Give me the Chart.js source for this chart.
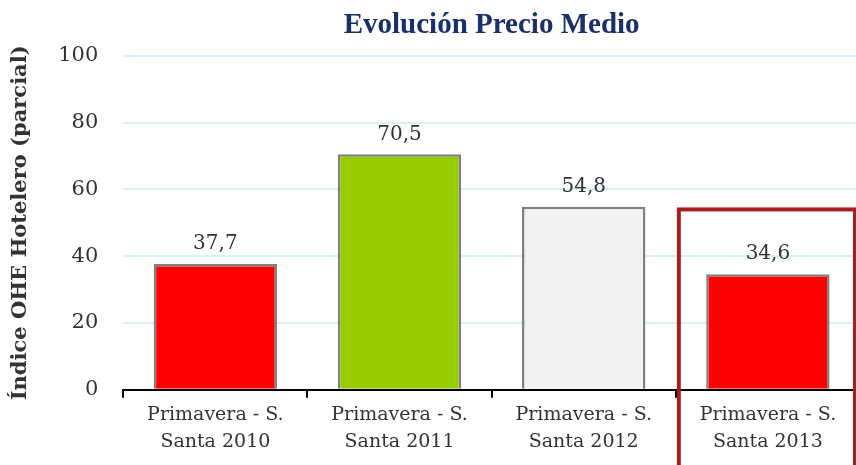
<!DOCTYPE html>
<html>
<head>
<meta charset="utf-8">
<script src="https://cdn.jsdelivr.net/npm/chart.js@4.4.0/dist/chart.umd.min.js"></script>
<style>
  html, body { margin: 0; padding: 0; background: #fff; overflow: hidden; }
  #wrap { width: 860px; height: 465px; }
</style>
</head>
<body>
<div id="wrap"><canvas id="c" width="860" height="465"></canvas></div>
<script>
const categories = [
  ['Primavera - S.', 'Santa 2010'],
  ['Primavera - S.', 'Santa 2011'],
  ['Primavera - S.', 'Santa 2012'],
  ['Primavera - S.', 'Santa 2013']
];
const values = [37.7, 70.5, 54.8, 34.6];
const yTicks = [0, 20, 40, 60, 80, 100];
const highlightIndex = 3;
const highlightTopValue = 54;

const barColors = ['#FF0000', '#99CC00', '#F2F2F2', '#FF0000'];
const serif = '"DejaVu Serif", Georgia, serif';

const dataLabels = {
  id: 'dataLabels',
  afterDatasetsDraw(chart) {
    const ctx = chart.ctx;
    const meta = chart.getDatasetMeta(0);
    ctx.save();
    ctx.font = '20px ' + serif;
    ctx.fillStyle = '#333333';
    ctx.textAlign = 'center';
    ctx.textBaseline = 'bottom';
    meta.data.forEach((bar, i) => {
      const v = chart.data.datasets[0].data[i];
      ctx.fillText(v.toFixed(1).replace('.', ','), bar.x, bar.y - 10);
    });
    ctx.restore();
  }
};

const highlightBox = {
  id: 'highlightBox',
  afterDraw(chart) {
    const ctx = chart.ctx;
    const x = chart.scales.x, y = chart.scales.y;
    const cw = x.getPixelForValue(1) - x.getPixelForValue(0);
    const cx = x.getPixelForValue(highlightIndex);
    const left = cx - cw / 2 + 3;
    const right = cx + cw / 2 - 5;
    const top = y.getPixelForValue(highlightTopValue);
    const bottom = chart.height + 10;
    ctx.save();
    ctx.strokeStyle = '#A61E22';
    ctx.lineWidth = 4;
    ctx.strokeRect(left, top, right - left, bottom - top);
    ctx.restore();
  }
};

new Chart(document.getElementById('c'), {
  type: 'bar',
  data: {
    labels: categories,
    datasets: [{
      data: values,
      backgroundColor: barColors,
      borderColor: '#808080',
      borderWidth: 2.5,
      borderSkipped: 'bottom',
      categoryPercentage: 1,
      barPercentage: 0.67
    }]
  },
  options: {
    responsive: false,
    animation: false,
    devicePixelRatio: 1,
    layout: { padding: { top: 8, right: 0, left: 8, bottom: 6 } },
    plugins: {
      legend: { display: false },
      tooltip: { enabled: false },
      title: {
        display: true,
        text: 'Evolución Precio Medio',
        fullSize: false,
        color: '#1B2F6A',
        font: { family: '"Liberation Serif", "Times New Roman", serif', size: 29, weight: 'bold' },
        padding: { top: 0, bottom: 13 }
      }
    },
    scales: {
      x: {
        offset: true,
        grid: {
          display: true,
          drawOnChartArea: false,
          drawTicks: true,
          tickLength: 8,
          color: '#000000',
          lineWidth: 2,
          offset: true
        },
        border: { display: true, color: '#000000', width: 2 },
        ticks: {
          color: '#333333',
          font: { family: serif, size: 19, lineHeight: 1.4 },
          padding: 4,
          maxRotation: 0,
          autoSkip: false
        }
      },
      y: {
        min: 0,
        max: 100,
        afterBuildTicks(scale) { scale.ticks = yTicks.map(v => ({ value: v })); },
        grid: {
          color: (c) => c.tick && c.tick.value === 0 ? 'rgba(0,0,0,0)' : '#DCEEF6',
          lineWidth: 2,
          drawTicks: false
        },
        border: { display: false },
        ticks: {
          color: '#333333',
          font: { family: serif, size: 21 },
          padding: 25
        },
        title: {
          display: true,
          text: 'Índice OHE Hotelero (parcial)',
          color: '#333333',
          font: { family: serif, size: 21, weight: 'bold' },
          padding: { top: 0, bottom: 0 }
        }
      }
    }
  },
  plugins: [dataLabels, highlightBox]
});
</script>
</body>
</html>
